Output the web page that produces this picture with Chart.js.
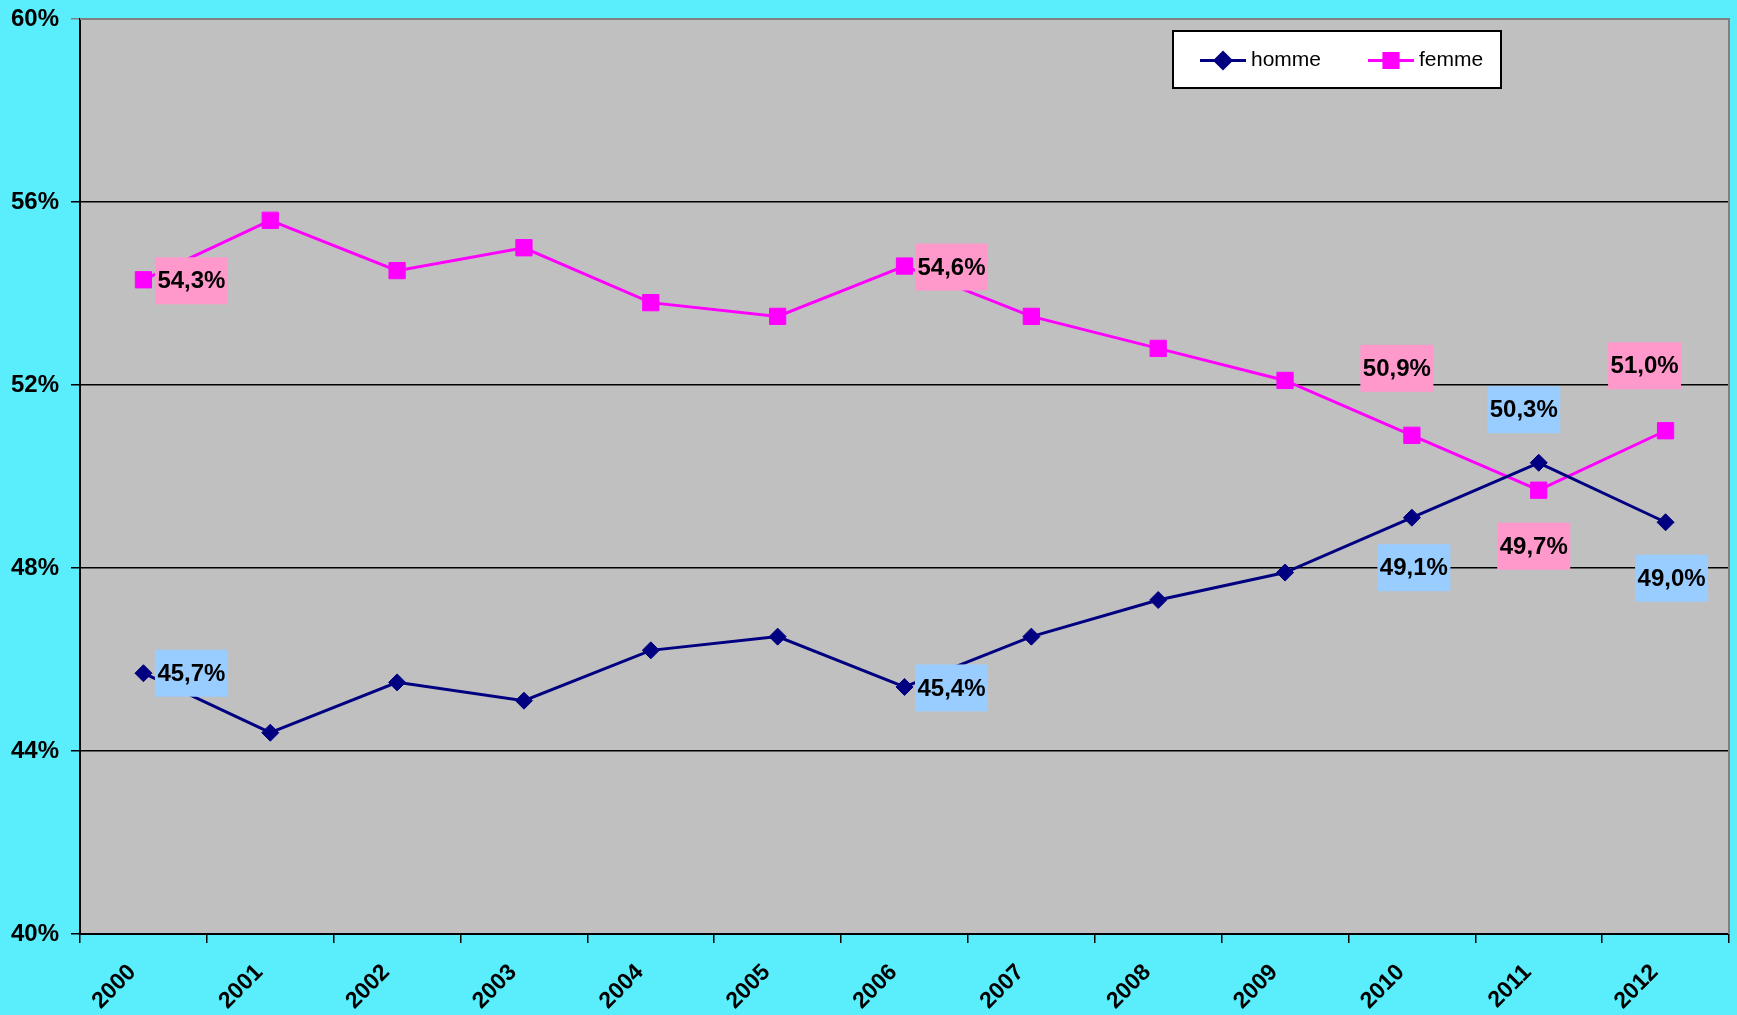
<!DOCTYPE html>
<html><head><meta charset="utf-8">
<style>html,body{margin:0;padding:0;background:#5AEEFC;} canvas{display:block;}</style>
<script src="https://cdn.jsdelivr.net/npm/chart.js@4"></script>
</head><body><canvas id="c" width="1737" height="1015"></canvas>
<script>
const years = ['2000','2001','2002','2003','2004','2005','2006','2007','2008','2009','2010','2011','2012'];
const homme = [45.7,44.4,45.5,45.1,46.2,46.5,45.4,46.5,47.3,47.9,49.1,50.3,49.0];
const femme = [54.3,55.6,54.5,55.0,53.8,53.5,54.6,53.5,52.8,52.1,50.9,49.7,51.0];
const labeledIdx = [0,6,10,11,12];

const FONT = "'Liberation Sans', Arial, sans-serif";

// label placement (offset of label box centre from the point), style only
const labelPlacement = {
  0: {0:[48,0],6:[47,1],10:[2,50],11:[-15,-53],12:[6,56]},
  1: {0:[48,1],6:[47,1],10:[-15,-67],11:[-5,56],12:[-21,-65]}
};
const labelBg = ['#99CCFF','#FF99CC'];

const bgPlugin = {
  id:'bg',
  beforeDraw(chart){
    const {ctx, chartArea:a} = chart;
    ctx.save();
    ctx.fillStyle = '#5AEEFC';
    ctx.fillRect(0,0,chart.width,chart.height);
    ctx.fillStyle = '#C0C0C0';
    ctx.fillRect(a.left,a.top,a.right-a.left,a.bottom-a.top);
    ctx.restore();
  },
  afterDatasetsDraw(chart){
    const {ctx, chartArea:a} = chart;
    ctx.save();
    ctx.strokeStyle = '#808080';
    ctx.lineWidth = 2;
    ctx.beginPath();
    ctx.moveTo(a.left, a.top); ctx.lineTo(a.right, a.top); ctx.lineTo(a.right, a.bottom);
    ctx.stroke();
    ctx.restore();
  }
};

const labelPlugin = {
  id:'dlabels',
  afterDatasetsDraw(chart){
    const ctx = chart.ctx;
    ctx.save();
    ctx.font = 'bold 24px ' + FONT;
    ctx.textAlign = 'center';
    ctx.textBaseline = 'middle';
    chart.data.datasets.forEach((ds, di) => {
      const meta = chart.getDatasetMeta(di);
      labeledIdx.forEach(i => {
        const pt = meta.data[i];
        const off = labelPlacement[di][i];
        const cx = pt.x + off[0], cy = pt.y + off[1];
        const w = 73, h = 47;
        ctx.fillStyle = labelBg[di];
        ctx.fillRect(cx - w/2, cy - h/2, w, h);
        ctx.fillStyle = '#000';
        ctx.fillText(ds.data[i].toFixed(1).replace('.', ',') + '%', cx, cy + 1);
      });
    });
    ctx.restore();
  }
};

const legendPlugin = {
  id:'boxlegend',
  afterDraw(chart){
    const ctx = chart.ctx;
    ctx.save();
    const x0 = 1173, y0 = 31, w = 328, h = 57;
    ctx.fillStyle = '#fff';
    ctx.fillRect(x0, y0, w, h);
    ctx.strokeStyle = '#000';
    ctx.lineWidth = 2;
    ctx.strokeRect(x0, y0, w, h);
    const cy = y0 + h/2 + 1;
    const items = [{x:1200}, {x:1368}];
    chart.data.datasets.forEach((ds, di) => {
      const lx = items[di].x;
      ctx.strokeStyle = ds.borderColor;
      ctx.lineWidth = 3;
      ctx.beginPath(); ctx.moveTo(lx, cy); ctx.lineTo(lx + 46, cy); ctx.stroke();
      ctx.fillStyle = ds.borderColor;
      Chart.helpers.drawPoint(ctx, {pointStyle: ds.pointStyle, radius: di === 0 ? 8 : 10, borderWidth: 1}, lx + 23, cy);
      ctx.fillStyle = '#000';
      ctx.font = '21px ' + FONT;
      ctx.textAlign = 'left';
      ctx.textBaseline = 'middle';
      ctx.fillText(ds.label, lx + 51, cy);
    });
    ctx.restore();
  }
};

new Chart(document.getElementById('c'), {
  type:'line',
  data:{
    labels: years,
    datasets:[
      {label:'homme', data: homme, borderColor:'#000080', backgroundColor:'#000080',
       pointStyle:'rectRot', pointRadius:8.5, pointBorderWidth:1, borderWidth:3, tension:0},
      {label:'femme', data: femme, borderColor:'#FF00FF', backgroundColor:'#FF00FF',
       pointStyle:'rect', pointRadius:11.5, pointBorderWidth:1, borderWidth:3, tension:0}
    ]
  },
  options:{
    responsive:false,
    animation:false,
    devicePixelRatio:1,
    layout:{autoPadding:false, padding:{top:19, right:8, left:0, bottom:0}},
    plugins:{legend:{display:false}, tooltip:{enabled:false}},
    scales:{
      x:{
        offset:true,
        grid:{offset:true, drawOnChartArea:false, drawTicks:true, tickLength:9, color:'#000', lineWidth:1.5},
        border:{display:true, color:'#000', width:2},
        ticks:{maxRotation:45, minRotation:45, autoSkip:false, color:'#000', font:{family:FONT, size:23, weight:'bold'}, padding:16, labelOffset:-11},
        afterFit(s){ s.height = 81; s.paddingLeft = 0; s.paddingRight = 0; }
      },
      y:{
        min:40, max:60,
        ticks:{stepSize:4, color:'#000', font:{family:FONT, size:24, weight:'bold'}, padding:12,
               callback:v => v + '%'},
        grid:{color: c => (c.tick && c.tick.value === 60) ? '#808080' : '#000', lineWidth:1.5, tickLength:9, drawTicks:true},
        border:{display:true, color:'#000', width:2},
        afterFit(s){ s.width = 80; s.paddingTop = 0; s.paddingBottom = 0; }
      }
    }
  },
  plugins:[bgPlugin, labelPlugin, legendPlugin]
});
</script>
</body></html>
